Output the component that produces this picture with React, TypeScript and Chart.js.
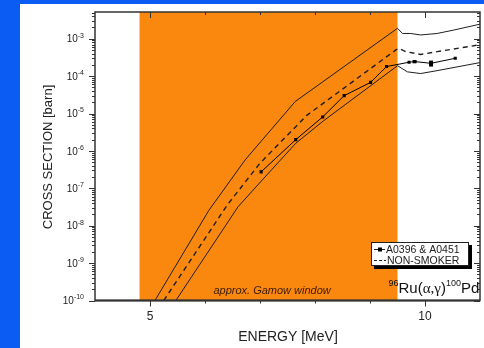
import React, { useEffect, useRef } from 'react';
import { Chart, registerables } from 'chart.js';

Chart.register(...registerables);

// ---- data (energy in MeV, cross section in barn) ----
const upperEnergy = [5.09, 6.07, 6.73, 7.64, 9.5, 9.59, 9.74, 9.92, 10.22, 10.52, 11.0];
const upperSigma = [1e-10, 2.57e-8, 5.75e-7, 2.09e-5, 1.9e-3, 1.38e-3, 1.38e-3, 1.26e-3, 1.38e-3, 1.7e-3, 2.45e-3];

const nonSmokerEnergy = [5.25, 6.4, 7.0, 7.85, 9.47, 9.53, 9.65, 9.92, 10.22, 11.0];
const nonSmokerSigma = [1e-10, 3.5e-8, 4.7e-7, 8.9e-6, 5.0e-4, 5.5e-4, 4.5e-4, 3.8e-4, 4.5e-4, 6.9e-4];

const lowerEnergy = [5.47, 6.6, 7.09, 7.65, 8.15, 9.5, 9.68, 9.92, 10.22, 11.0];
const lowerSigma = [1e-10, 3.2e-8, 2.0e-7, 1.6e-6, 6.3e-6, 1.9e-4, 1.3e-4, 1.17e-4, 1.4e-4, 2.3e-4];

const measEnergy = [7.02, 7.65, 8.14, 8.53, 9.01, 9.3, 9.71, 9.81, 10.11, 10.55];
const measSigma = [2.75e-7, 2.0e-6, 8.1e-6, 3.0e-5, 6.8e-5, 1.8e-4, 2.35e-4, 2.45e-4, 2.2e-4, 3.0e-4];
const measErrLow = [null, null, null, null, null, null, null, 2.2e-4, 1.8e-4, null];
const measErrHigh = [null, null, null, null, null, null, null, 2.7e-4, 2.6e-4, null];

const gamowWindow = [4.81, 9.5];
const gamowLabel = 'approx. Gamow window';
const gamowLabelCenter = 7.22;

const xMin = 4;
const xMax = 11;
const yMin = 1e-10;
const yMax = 5.18e-3;
const xMajorTicks = [5, 10];
const xMinorTicks = [6, 7, 8, 9];
const yMajorExponents = [-10, -9, -8, -7, -6, -5, -4, -3];
const yMinorMultipliers = [2, 3, 4, 5, 6, 7, 8, 9];

const legendLabels = ['A0396 & A0451', 'NON-SMOKER'];
const xTitle = 'ENERGY [MeV]';
const yTitle = 'CROSS SECTION [barn]';

const ORANGE = '#fa870e';
const INK = '#1e1e1e';
const FONT = '"Liberation Sans", Arial, sans-serif';

const toPoints = (xs: number[], ys: number[]) => xs.map((x, i) => ({ x, y: ys[i] }));

const decorPlugin = {
  id: 'decor',
  beforeDatasetsDraw(chart: any) {
    const { ctx, chartArea: a, scales } = chart;
    const x = scales.x;
    ctx.save();
    const x0 = x.getPixelForValue(gamowWindow[0]);
    const x1 = x.getPixelForValue(gamowWindow[1]);
    ctx.fillStyle = ORANGE;
    ctx.fillRect(x0, a.top, x1 - x0, a.bottom - a.top);
    ctx.font = 'italic 11px ' + FONT;
    ctx.fillStyle = '#3a1c04';
    ctx.textAlign = 'center';
    ctx.textBaseline = 'middle';
    ctx.fillText(gamowLabel, x.getPixelForValue(gamowLabelCenter), a.bottom - 10);
    ctx.restore();
  },
  afterDatasetsDraw(chart: any) {
    const { ctx, chartArea: a, scales } = chart;
    const x = scales.x;
    const y = scales.y;
    ctx.save();

    // error bars
    ctx.fillStyle = '#000';
    measEnergy.forEach((e, i) => {
      const lo = measErrLow[i];
      const hi = measErrHigh[i];
      if (lo == null || hi == null) return;
      const px = x.getPixelForValue(e);
      const py0 = y.getPixelForValue(hi);
      const py1 = y.getPixelForValue(lo);
      ctx.fillRect(px - 2, py0, 4, py1 - py0);
    });

    // frame
    ctx.strokeStyle = '#333';
    ctx.lineWidth = 1.5;
    ctx.strokeRect(a.left, a.top, a.right - a.left, a.bottom - a.top);
    ctx.lineWidth = 2;
    ctx.beginPath();
    ctx.moveTo(a.left, a.bottom);
    ctx.lineTo(a.right, a.bottom);
    ctx.stroke();

    // ticks
    ctx.lineWidth = 1;
    ctx.strokeStyle = '#333';
    ctx.beginPath();
    const xt = (v: number, len: number) => {
      const px = Math.round(x.getPixelForValue(v)) + 0.5;
      ctx.moveTo(px, a.bottom);
      ctx.lineTo(px, a.bottom + len);
      ctx.moveTo(px, a.top);
      ctx.lineTo(px, a.top + len);
    };
    xMajorTicks.forEach((v) => xt(v, 6));
    xMinorTicks.forEach((v) => xt(v, 3));
    const yt = (v: number, len: number) => {
      const py = Math.round(y.getPixelForValue(v)) + 0.5;
      ctx.moveTo(a.left, py);
      ctx.lineTo(a.left - len, py);
      ctx.moveTo(a.right, py);
      ctx.lineTo(a.right - len, py);
    };
    yMajorExponents.forEach((ex) => {
      yt(Math.pow(10, ex), 6);
      yMinorMultipliers.forEach((m) => {
        const v = m * Math.pow(10, ex);
        if (v <= yMax) yt(v, 3);
      });
    });
    ctx.stroke();

    // y tick labels
    ctx.fillStyle = '#222';
    ctx.textBaseline = 'middle';
    ctx.textAlign = 'left';
    yMajorExponents.forEach((ex) => {
      const py = y.getPixelForValue(Math.pow(10, ex));
      const expText = '-' + String(-ex);
      ctx.font = '7px ' + FONT;
      const ew = ctx.measureText(expText).width;
      ctx.font = '10px ' + FONT;
      const bw = ctx.measureText('10').width;
      const right = a.left - 11;
      ctx.fillText('10', right - ew - bw, py + 1);
      ctx.font = '7px ' + FONT;
      ctx.fillText(expText, right - ew, py - 3);
    });

    // x tick labels
    ctx.font = '12px ' + FONT;
    ctx.textAlign = 'center';
    xMajorTicks.forEach((v) => {
      ctx.fillText(String(v), x.getPixelForValue(v), a.bottom + 16);
    });

    // axis titles
    ctx.fillStyle = '#222';
    ctx.font = '14px ' + FONT;
    ctx.fillText(xTitle, 288, 337);
    ctx.save();
    ctx.translate(48, 157);
    ctx.rotate(-Math.PI / 2);
    ctx.font = '13px ' + FONT;
    ctx.fillText(yTitle, 0, 0);
    ctx.restore();

    // legend
    const lx = 371, ly = 242, lw = 98, lh = 24;
    ctx.fillStyle = '#000';
    ctx.fillRect(lx + 3, ly + 3, lw, lh);
    ctx.fillStyle = '#fff';
    ctx.fillRect(lx, ly, lw, lh);
    ctx.strokeStyle = '#222';
    ctx.lineWidth = 1;
    ctx.strokeRect(lx + 0.5, ly + 0.5, lw - 1, lh - 1);
    const r1 = ly + 7.5, r2 = ly + 18.5;
    ctx.beginPath();
    ctx.moveTo(lx + 3, r1);
    ctx.lineTo(lx + 14, r1);
    ctx.stroke();
    ctx.fillStyle = '#000';
    ctx.fillRect(lx + 7, r1 - 2, 4, 4);
    ctx.setLineDash([3, 2]);
    ctx.beginPath();
    ctx.moveTo(lx + 3, r2);
    ctx.lineTo(lx + 15, r2);
    ctx.stroke();
    ctx.setLineDash([]);
    ctx.fillStyle = '#222';
    ctx.font = '10.5px ' + FONT;
    ctx.textAlign = 'left';
    ctx.textBaseline = 'middle';
    ctx.fillText(legendLabels[0], lx + 15, r1 + 0.5);
    ctx.fillText(legendLabels[1], lx + 16, r2 + 0.5);

    // reaction label 96Ru(α,γ)100Pd
    let cx = 388.5;
    const base = 293;
    ctx.textBaseline = 'alphabetic';
    const part = (t: string, size: number, dy: number) => {
      ctx.font = size + 'px ' + FONT;
      ctx.fillText(t, cx, base + dy);
      cx += ctx.measureText(t).width;
    };
    ctx.fillStyle = '#111';
    part('96', 9, -7);
    part('Ru(', 15, 0);
    ctx.font = '15px "Liberation Serif", serif';
    ctx.fillText('α,γ', cx, base);
    cx += ctx.measureText('α,γ').width;
    part(')', 15, 0);
    part('100', 9, -7);
    part('Pd', 15, 0);

    ctx.restore();
  },
};

export default function App() {
  const ref = useRef<HTMLCanvasElement | null>(null);
  useEffect(() => {
    if (!ref.current) return;
    const lineStyle = {
      borderColor: INK,
      borderWidth: 1,
      pointRadius: 0,
      fill: false,
      tension: 0,
    };
    const chart = new Chart(ref.current, {
      type: 'line',
      data: {
        datasets: [
          { label: 'upper', data: toPoints(upperEnergy, upperSigma), ...lineStyle },
          { label: 'lower', data: toPoints(lowerEnergy, lowerSigma), ...lineStyle },
          {
            label: 'NON-SMOKER',
            data: toPoints(nonSmokerEnergy, nonSmokerSigma),
            ...lineStyle,
            borderWidth: 1.4,
            borderDash: [5, 4],
          },
          {
            label: 'A0396 & A0451',
            data: toPoints(measEnergy, measSigma),
            borderColor: '#000',
            backgroundColor: '#000',
            borderWidth: 1,
            pointStyle: 'rect',
            pointRadius: 2.2,
            pointBorderWidth: 0,
            fill: false,
          },
        ],
      },
      options: {
        responsive: false,
        animation: false,
        layout: { padding: { left: 95, right: 1, top: 12, bottom: 47.5 } },
        plugins: { legend: { display: false }, tooltip: { enabled: false } },
        scales: {
          x: { type: 'linear', min: xMin, max: xMax, display: false },
          y: { type: 'logarithmic', min: yMin, max: yMax, display: false },
        },
      },
      plugins: [decorPlugin],
    });
    return () => chart.destroy();
  }, []);

  return (
    <div style={{ position: 'absolute', left: 0, top: 0, width: 484, height: 348, background: '#0b5cf2' }}>
      <div style={{ position: 'absolute', left: 20, top: 4, width: 464, height: 344, background: '#ffffff' }} />
      <canvas ref={ref} width={484} height={348} style={{ position: 'absolute', left: 0, top: 0 }} />
    </div>
  );
}
